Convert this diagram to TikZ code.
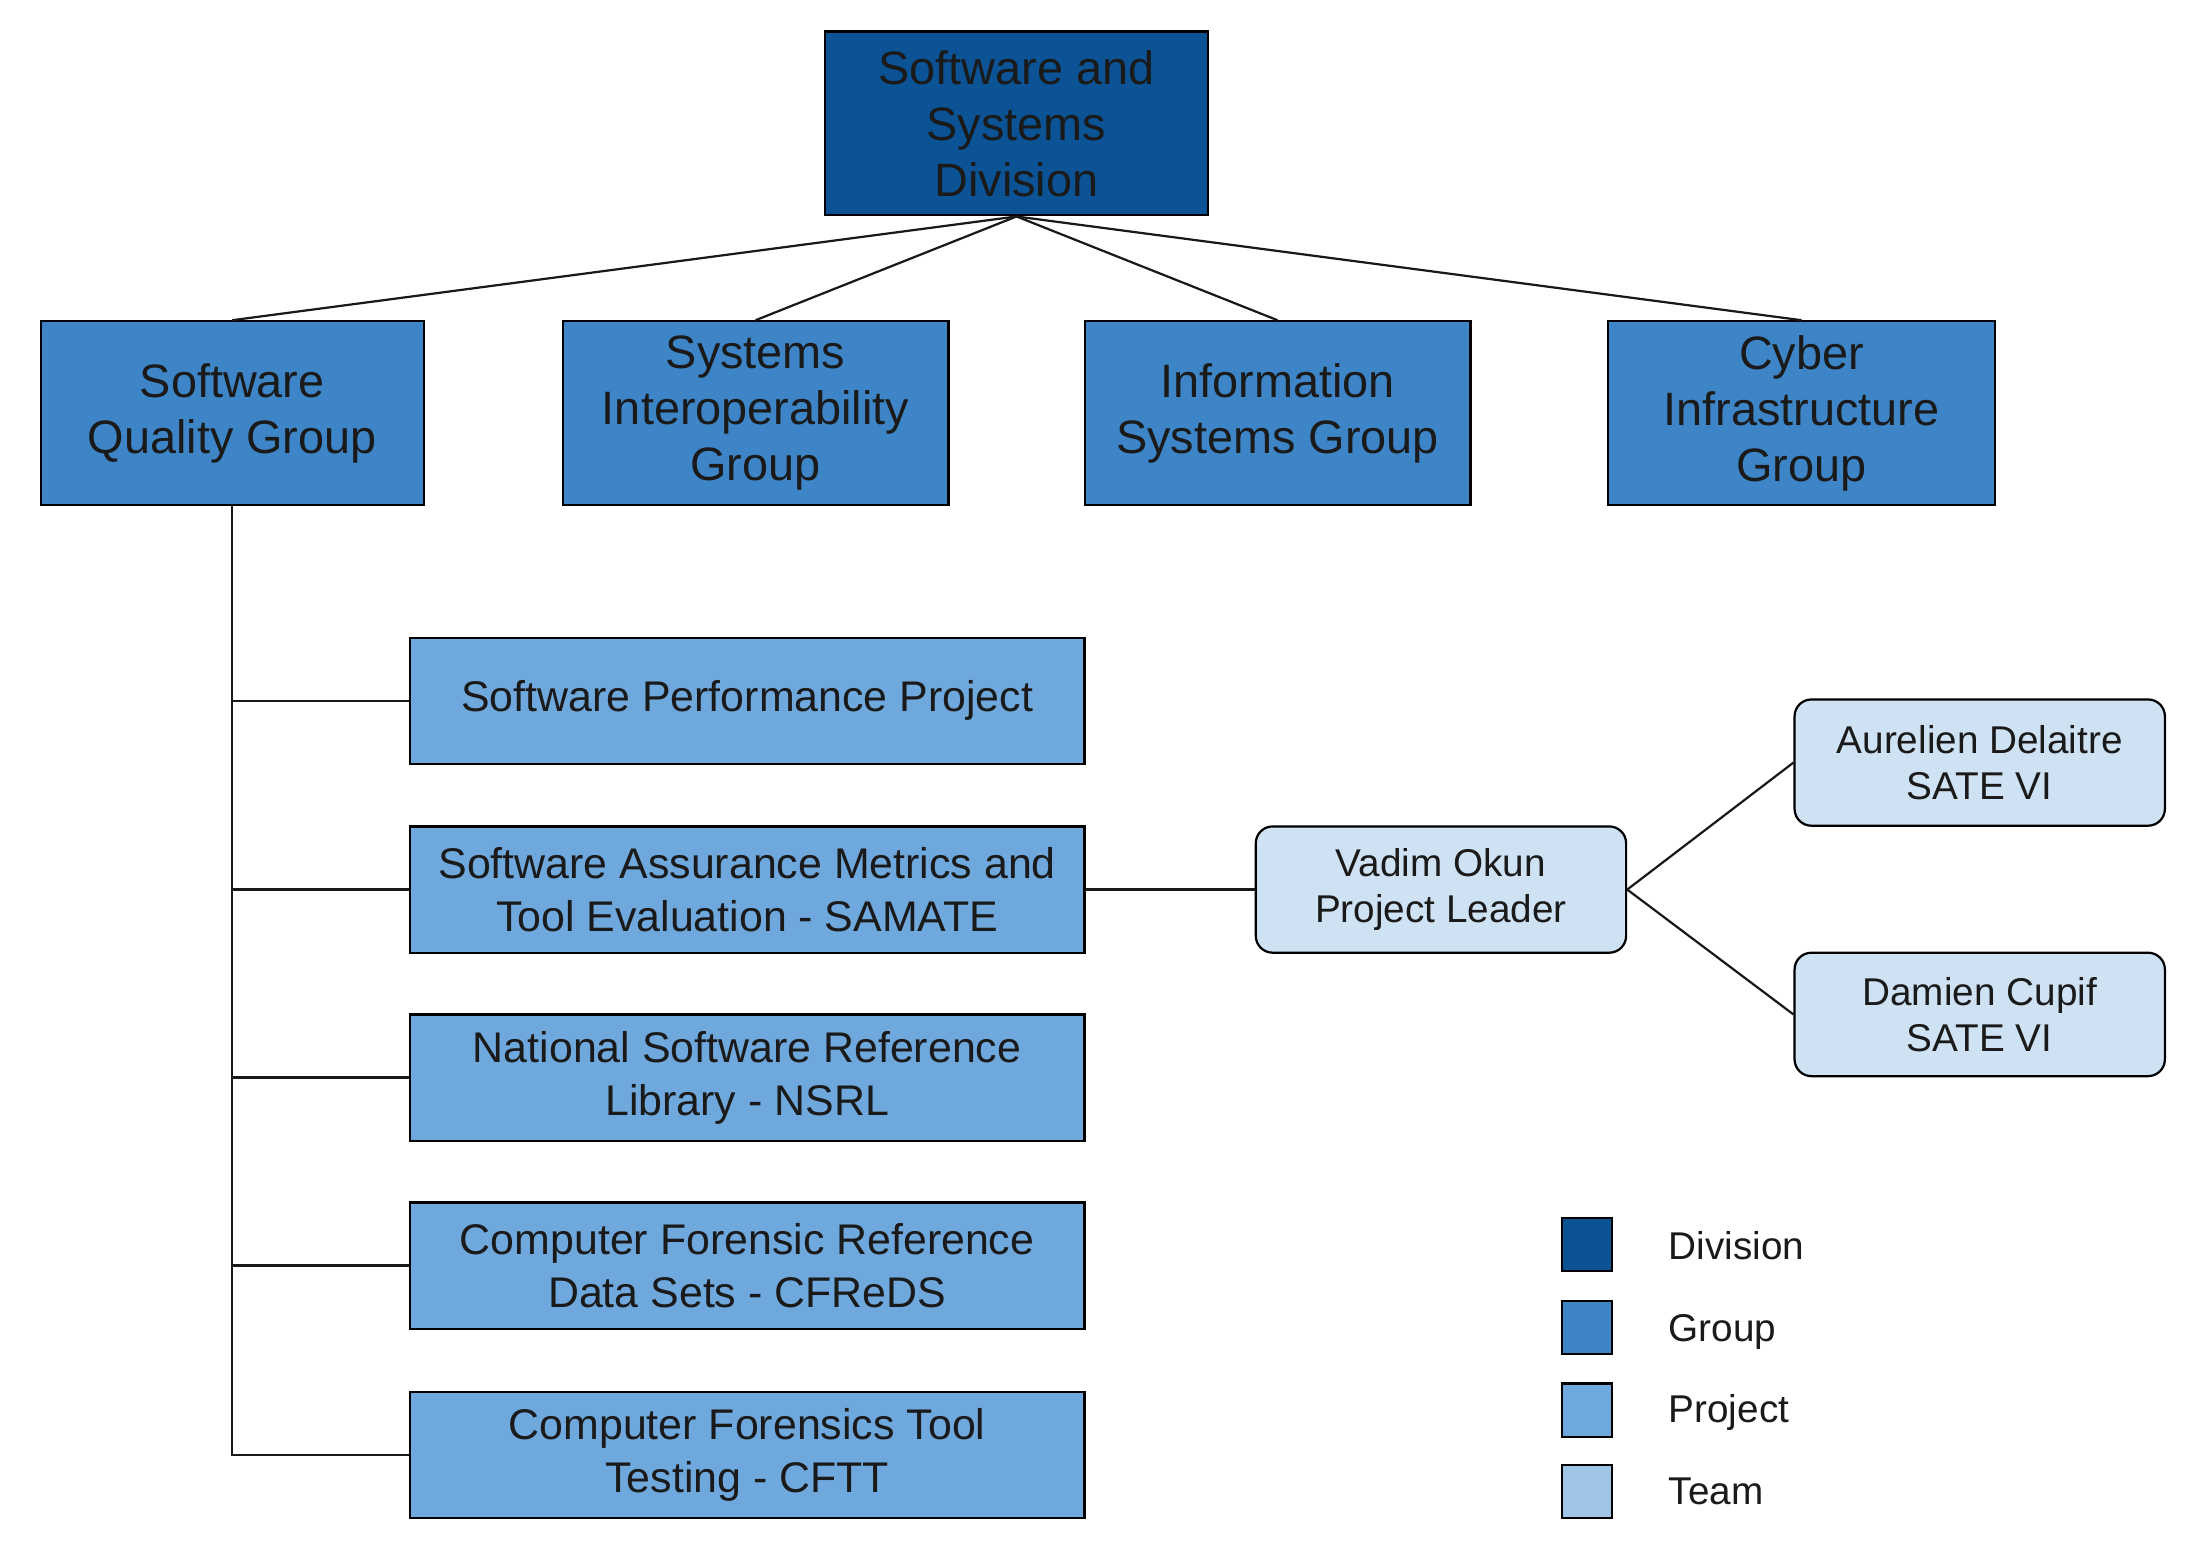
\documentclass[tikz,border=0pt]{standalone}
\usepackage{fontspec}
\setmainfont{Liberation Sans}
\definecolor{cdiv}{HTML}{0B5394}
\definecolor{cgrp}{HTML}{3D85C6}
\definecolor{cprj}{HTML}{6FA8DC}
\definecolor{cteamleg}{HTML}{9FC5E8}
\definecolor{cteam}{HTML}{CFE2F3}
\definecolor{ctxt}{HTML}{1A1A1A}
\begin{document}
\begin{tikzpicture}[x=0.02cm,y=-0.02cm,
  box/.style={draw=black, line width=0.9pt, inner sep=0pt, align=center, text=ctxt},
  divbox/.style={box, fill=cdiv, minimum width=5.46cm, minimum height=2.62cm, font=\fontsize{19}{22.7}\selectfont},
  grpbox/.style={box, fill=cgrp, minimum height=2.62cm, font=\fontsize{19}{22.7}\selectfont},
  prjbox/.style={box, fill=cprj, minimum width=9.62cm, minimum height=1.8cm, font=\fontsize{17.4}{21.5}\selectfont},
  teambox/.style={box, fill=cteam, rounded corners=0.24cm, minimum width=5.28cm, minimum height=1.8cm, font=\fontsize{15.7}{18.7}\selectfont},
  legsq/.style={draw=black, line width=0.9pt, minimum width=0.72cm, minimum height=0.76cm, inner sep=0pt},
  leglab/.style={anchor=base west, inner sep=0pt, text=ctxt, font=\fontsize{15.7}{18.7}\selectfont},
  conn/.style={draw=black!90, line width=0.9pt}]
\useasboundingbox (0,0) rectangle (1568,1111.8);

\node[divbox] (div) at (724.5,88) {Software and\\Systems\\Division};

\node[grpbox, minimum width=5.46cm] (sqg) at (165.5,294.5) {Software\\Quality Group};
\node[grpbox, minimum width=5.5cm] (sig) at (538.5,294.5) {Systems\\Interoperability\\Group};
\node[grpbox, minimum width=5.5cm] (isg) at (910.5,294.5) {Information\\Systems Group};
\node[grpbox, minimum width=5.52cm] (cig) at (1284,294.5) {Cyber\\Infrastructure\\Group};

\node[prjbox] (spp) at (532.5,499.5) {Software Performance Project};
\node[prjbox] (sam) at (532.5,634) {Software Assurance Metrics and\\Tool Evaluation - SAMATE};
\node[prjbox] (nsrl) at (532.5,768) {National Software Reference\\Library - NSRL};
\node[prjbox] (cfr) at (532.5,902) {Computer Forensic Reference\\Data Sets - CFReDS};
\node[prjbox] (cftt) at (532.5,1037) {Computer Forensics Tool\\Testing - CFTT};

\node[teambox] (vad) at (1027,634) {Vadim Okun\\Project Leader};
\node[teambox] (aur) at (1411,543.5) {Aurelien Delaitre\\SATE VI};
\node[teambox, minimum height=1.76cm] (dam) at (1411,723) {Damien Cupif\\SATE VI};

\draw[conn] (div.south) -- (sqg.north);
\draw[conn] (div.south) -- (sig.north);
\draw[conn] (div.south) -- (isg.north);
\draw[conn] (div.south) -- (cig.north);

\coordinate (trunkend) at (165.5,1037);
\draw[conn] (sqg.south) -- (trunkend) -- (cftt.west);
\draw[conn] (sqg.south |- spp.west) -- (spp.west);
\draw[conn] (sqg.south |- sam.west) -- (sam.west);
\draw[conn] (sqg.south |- nsrl.west) -- (nsrl.west);
\draw[conn] (sqg.south |- cfr.west) -- (cfr.west);

\draw[conn] (sam.east) -- (vad.west);
\draw[conn] (vad.east) -- (aur.west);
\draw[conn] (vad.east) -- (dam.west);

\node[legsq, fill=cdiv] (l1) at (1131,887) {};
\node[legsq, fill=cgrp] (l2) at (1131,946) {};
\node[legsq, fill=cprj] (l3) at (1131,1005) {};
\node[legsq, fill=cteamleg] (l4) at (1131,1063) {};
\node[leglab] (t1) at (1189,898) {Division};
\node[leglab] (t2) at (1189,956) {Group};
\node[leglab] (t3) at (1189,1014) {Project};
\node[leglab] (t4) at (1189,1072) {Team};
\end{tikzpicture}
\end{document}
